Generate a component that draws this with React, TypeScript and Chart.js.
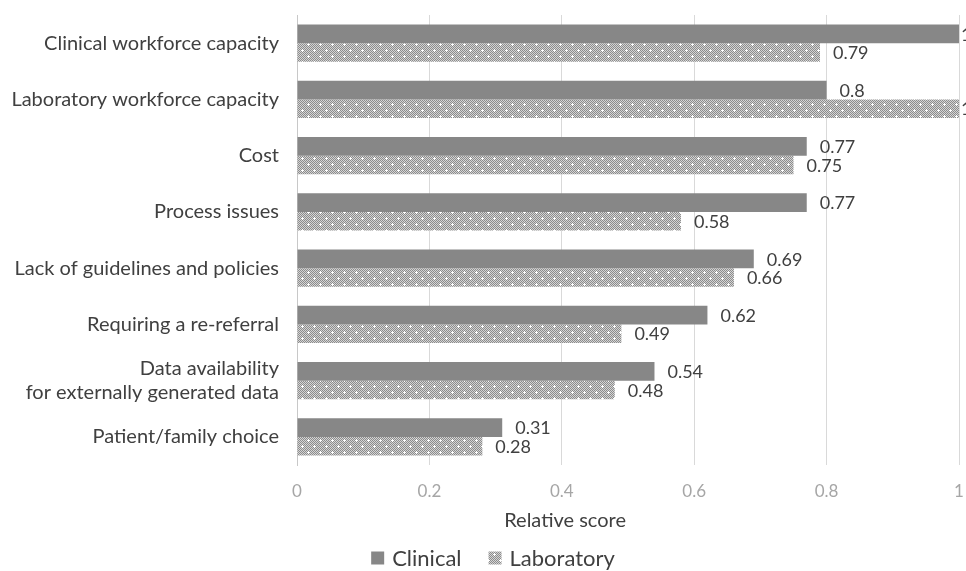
import React, { useEffect, useRef } from "react";
import { Chart, registerables } from "chart.js";

Chart.register(...registerables);

const categories: (string | string[])[] = [
  "Clinical workforce capacity",
  "Laboratory workforce capacity",
  "Cost",
  "Process issues",
  "Lack of guidelines and policies",
  "Requiring a re-referral",
  ["Data availability", "for externally generated data"],
  "Patient/family choice",
];

const clinicalScores = [1, 0.8, 0.77, 0.77, 0.69, 0.62, 0.54, 0.31];
const laboratoryScores = [0.79, 1, 0.75, 0.58, 0.66, 0.49, 0.48, 0.28];

const xTicks = [0, 0.2, 0.4, 0.6, 0.8, 1];

const FONT = "Lato, 'Open Sans', sans-serif";
const TEXT = "#404040";
const CLINICAL_COLOR = "#878787";

// Dotted checker fill used for the Laboratory series
function makeHatch(): CanvasPattern | string {
  const size = 12;
  const c = document.createElement("canvas");
  c.width = size;
  c.height = size;
  const g = c.getContext("2d");
  if (!g) return "#b0b0b0";
  for (let y = 0; y < size; y++) {
    for (let x = 0; x < size; x++) {
      g.fillStyle = (x + y) % 2 === 0 ? "#8c8c8c" : "#d4d4d4";
      g.fillRect(x, y, 1, 1);
    }
  }
  g.fillStyle = "#ffffff";
  const dots = [
    [2, 2],
    [8, 8],
  ];
  for (const [dx, dy] of dots) {
    g.fillRect(dx - 1, dy, 3, 1);
    g.fillRect(dx, dy - 1, 1, 3);
  }
  const p = g.createPattern(c, "repeat");
  return p || "#b0b0b0";
}

// Value printed just past the end of every bar
const valueLabels = {
  id: "valueLabels",
  afterDatasetsDraw(chart: Chart) {
    const ctx = chart.ctx;
    ctx.save();
    ctx.font = `18px ${FONT}`;
    ctx.fillStyle = TEXT;
    ctx.textAlign = "left";
    ctx.textBaseline = "middle";
    chart.data.datasets.forEach((ds, di) => {
      const meta = chart.getDatasetMeta(di);
      meta.data.forEach((bar: any, i: number) => {
        const v = ds.data[i] as number;
        const x = Math.min(bar.x + 13, chart.width - 5);
        ctx.fillText(String(v), x, bar.y + 1);
      });
    });
    ctx.restore();
  },
};

// Axis title and legend drawn below the value axis
const footer = {
  id: "footer",
  afterDraw(chart: Chart) {
    const ctx = chart.ctx;
    const area = chart.chartArea;
    ctx.save();
    ctx.fillStyle = TEXT;
    ctx.textBaseline = "middle";

    ctx.font = `20px ${FONT}`;
    ctx.textAlign = "center";
    ctx.fillText("Relative score", area.left + (area.right - area.left) * 0.405, 521);

    ctx.font = `22px ${FONT}`;
    ctx.textAlign = "left";
    const names = chart.data.datasets.map((d) => String(d.label));
    const box = 13;
    const gapText = 8;
    const gapItem = 27;
    const widths = names.map((n) => ctx.measureText(n).width);
    const total = widths.reduce((s, w) => s + box + gapText + w, 0) + gapItem * (names.length - 1);
    let x = 493 - total / 2;
    const y = 558;
    chart.data.datasets.forEach((d, i) => {
      ctx.fillStyle = d.backgroundColor as any;
      ctx.fillRect(x, y - box / 2, box, box);
      x += box + gapText;
      ctx.fillStyle = TEXT;
      ctx.fillText(names[i], x, y + 1);
      x += widths[i] + gapItem;
    });
    ctx.restore();
  },
};

export default function App() {
  const ref = useRef<HTMLCanvasElement>(null);

  useEffect(() => {
    if (!ref.current) return;
    const hatch = makeHatch();
    const chart = new Chart(ref.current, {
      type: "bar",
      data: {
        labels: categories,
        datasets: [
          {
            label: "Clinical",
            data: clinicalScores,
            backgroundColor: CLINICAL_COLOR,
            barPercentage: 1,
            categoryPercentage: 0.66,
          },
          {
            label: "Laboratory",
            data: laboratoryScores,
            backgroundColor: hatch as any,
            barPercentage: 1,
            categoryPercentage: 0.66,
          },
        ],
      },
      options: {
        indexAxis: "y",
        animation: false,
        responsive: false,
        layout: { padding: { top: 15, right: 7, bottom: 0, left: 0 } },
        scales: {
          x: {
            min: 0,
            max: 1,
            afterBuildTicks: (axis: any) => {
              axis.ticks = xTicks.map((v) => ({ value: v }));
            },
            afterFit: (axis: any) => {
              axis.height = 106;
              axis.paddingLeft = 0;
              axis.paddingRight = 0;
            },
            grid: { color: "#d9d9d9", lineWidth: 1, drawTicks: false },
            border: { display: false },
            ticks: {
              color: "#a6a6a6",
              font: { family: FONT, size: 17 },
              padding: 16,
              callback: (v: any) => String(v),
            },
          },
          y: {
            afterFit: (axis: any) => {
              axis.width = 297;
              axis.paddingTop = 0;
              axis.paddingBottom = 0;
            },
            grid: { display: false, drawTicks: false },
            border: { display: true, color: "#c8c8c8" },
            ticks: {
              color: TEXT,
              font: { family: FONT, size: 20 },
              padding: 18,
            },
          },
        },
        plugins: {
          legend: { display: false },
          tooltip: { enabled: false },
        },
      },
      plugins: [valueLabels, footer],
    });
    return () => chart.destroy();
  }, []);

  return (
    <div style={{ position: "fixed", left: 0, top: 0, width: 966, height: 571 }}>
      <canvas ref={ref} width={966} height={571} />
    </div>
  );
}
